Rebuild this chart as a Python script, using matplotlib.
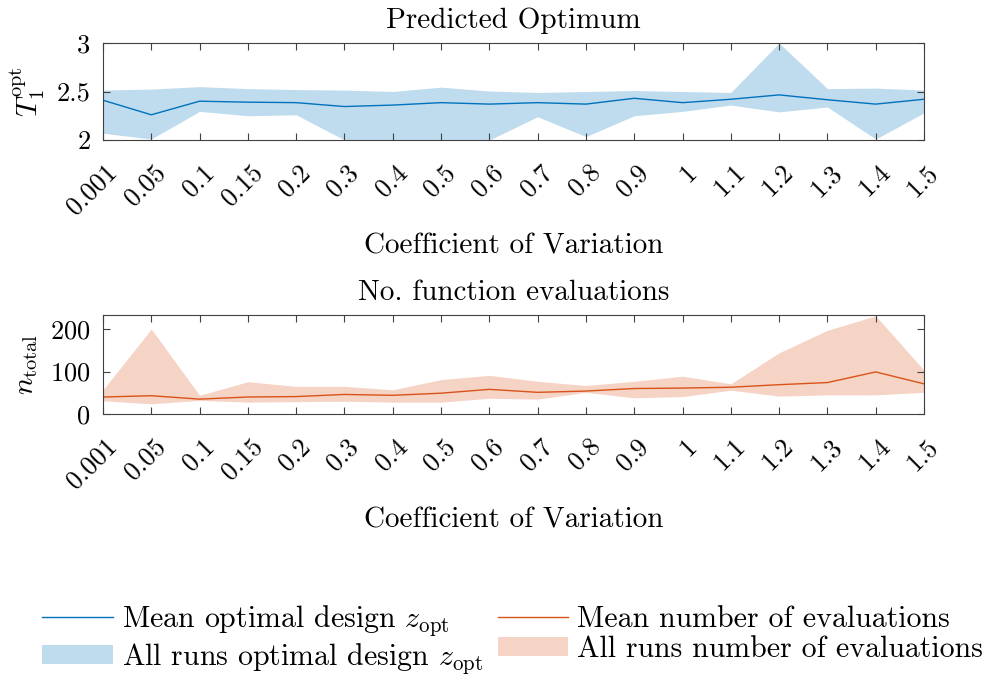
import matplotlib
matplotlib.use('Agg')
import matplotlib.pyplot as plt
import matplotlib.transforms as mtransforms
from matplotlib.lines import Line2D
from matplotlib.patches import Patch
import numpy as np

plt.rcParams['font.family'] = 'serif'
plt.rcParams['font.serif'] = ['cmr10']
plt.rcParams['mathtext.fontset'] = 'cm'
plt.rcParams['axes.formatter.use_mathtext'] = True

cov_labels = ['0.001', '0.05', '0.1', '0.15', '0.2', '0.3', '0.4', '0.5', '0.6',
              '0.7', '0.8', '0.9', '1', '1.1', '1.2', '1.3', '1.4', '1.5']

# predicted optimum T1 (mean and min/max over all runs)
opt_mean = [2.41, 2.26, 2.40, 2.39, 2.385, 2.345, 2.36, 2.385, 2.37,
            2.385, 2.37, 2.43, 2.385, 2.42, 2.465, 2.415, 2.37, 2.42]
opt_high = [2.515, 2.525, 2.55, 2.53, 2.52, 2.515, 2.50, 2.545, 2.505,
            2.49, 2.50, 2.51, 2.50, 2.49, 3.0, 2.53, 2.535, 2.515]
opt_low = [2.07, 2.01, 2.295, 2.25, 2.26, 2.0, 2.0, 2.0, 2.0,
           2.24, 2.035, 2.25, 2.295, 2.36, 2.29, 2.34, 2.01, 2.28]

# number of function evaluations (mean and min/max over all runs)
n_mean = [40, 43, 35, 40, 41, 46, 44, 49, 58,
          51, 54, 60, 61, 63, 69, 74, 99, 71]
n_high = [57, 200, 44, 76, 65, 65, 57, 81, 91,
          77, 67, 77, 89, 71, 144, 197, 231, 103]
n_low = [31, 24, 32, 28, 29, 30, 28, 28, 37,
         35, 51, 38, 41, 56, 42, 45, 45, 51]

blue = '#0072BD'
orange = '#D95319'
axcol = '#404040'

fig = plt.figure(figsize=(9.89, 6.76), dpi=100)
W, H = 989, 676
ax1 = fig.add_axes([103 / W, 1 - 140 / H, 821 / W, 97 / H])
ax2 = fig.add_axes([103 / W, 1 - 414 / H, 821 / W, 99 / H])

x = np.arange(1, len(cov_labels) + 1)
# rotated labels sit a little right of their tick, like the original
shift = mtransforms.ScaledTranslation(15.5 / 100, 0, fig.dpi_scale_trans)


def style(ax, ylab, hgt):
    ax.set_xlim(1, len(cov_labels))
    ax.set_xticks(x)
    ax.set_xticklabels(cov_labels, rotation=45, ha='right', va='baseline',
                       rotation_mode='anchor')
    ax.tick_params(direction='in', top=True, right=True, labelsize=19,
                   length=5, width=0.8, color=axcol)
    ax.tick_params(axis='x', pad=24)
    ax.tick_params(axis='y', pad=9)
    for lab in ax.get_xticklabels():
        lab.set_transform(lab.get_transform() + shift)
    for s in ax.spines.values():
        s.set_color(axcol)
        s.set_linewidth(0.8)
    ax.set_ylabel(ylab, fontsize=21, labelpad=7)
    ax.set_xlabel('Coefficient of Variation', fontsize=21, va='baseline')
    ax.xaxis.set_label_coords(0.5, -113 / hgt)


ax1.fill_between(x, opt_low, opt_high, color=blue, alpha=0.25, linewidth=0)
ax1.plot(x, opt_mean, color=blue, linewidth=1)
ax1.set_ylim(2, 3)
ax1.set_yticks([2, 2.5, 3])
ax1.set_yticklabels(['2', '2.5', '3'])
ax1.set_title('Predicted Optimum', fontsize=21, pad=11)
style(ax1, r'$T_1^{\mathrm{opt}}$', 97)

ax2.fill_between(x, n_low, n_high, color=orange, alpha=0.25, linewidth=0)
ax2.plot(x, n_mean, color=orange, linewidth=1)
ax2.set_ylim(0, max(n_high) + 2)
ax2.set_yticks([0, 100, 200])
ax2.set_title('No. function evaluations', fontsize=21, pad=11)
style(ax2, r'$n_{\mathrm{total}}$', 99)

handles = [Line2D([], [], color=blue, linewidth=1),
           Patch(facecolor=blue, alpha=0.25, linewidth=0),
           Line2D([], [], color=orange, linewidth=1),
           Patch(facecolor=orange, alpha=0.25, linewidth=0)]
labels = [r'Mean optimal design $z_{\mathrm{opt}}$',
          r'All runs optimal design $z_{\mathrm{opt}}$',
          'Mean number of evaluations',
          'All runs number of evaluations']
fig.legend(handles, labels, ncol=2, loc='upper left', frameon=False,
           bbox_to_anchor=(42 / W, 1 - 603 / H), borderaxespad=0, borderpad=0,
           fontsize=21.5, handlelength=2.37, handleheight=0.6, handletextpad=0.3,
           columnspacing=0.5, labelspacing=0.1)

fig.savefig('out.png', dpi=100)
